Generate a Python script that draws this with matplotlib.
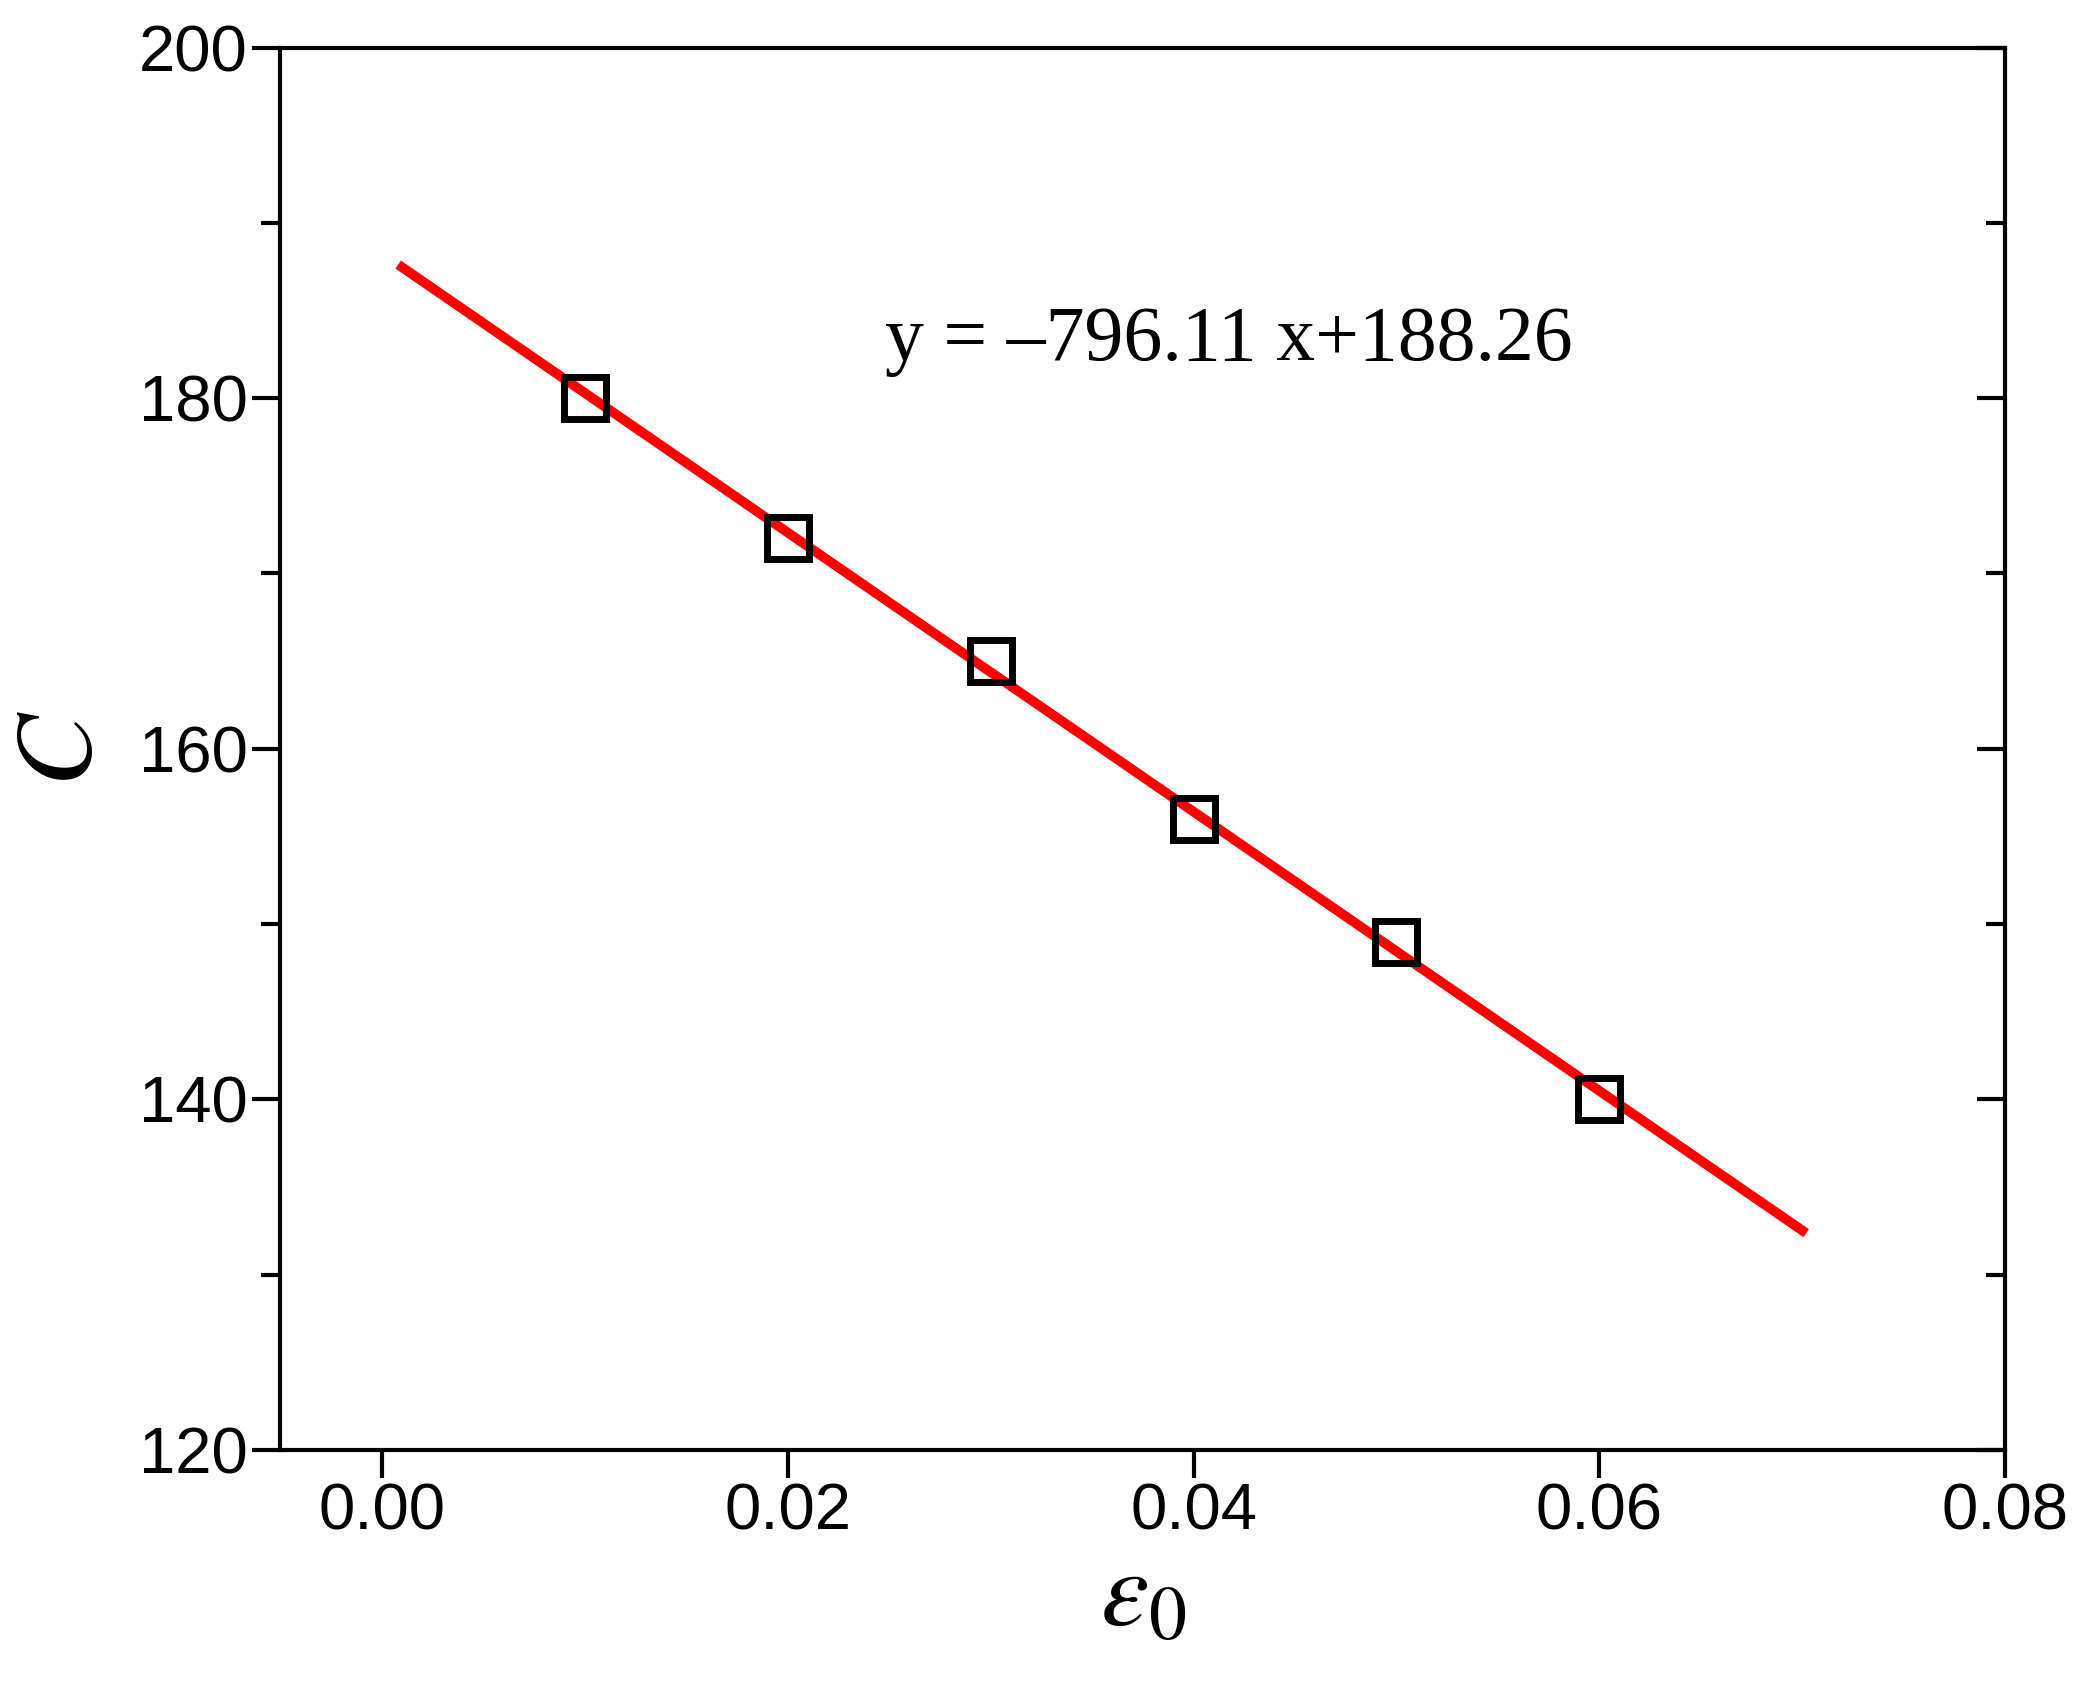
import matplotlib
matplotlib.use("Agg")
import matplotlib.pyplot as plt
import numpy as np
from matplotlib.ticker import MultipleLocator, FormatStrFormatter

plt.rcParams["mathtext.fontset"] = "stix"

# measured points
eps0 = [0.01, 0.02, 0.03, 0.04, 0.05, 0.06]
c_vals = [180, 172, 165, 156, 149, 140]
# linear fit shown in the figure
slope = -796.11
intercept = 188.26
fit_x = [0.001, 0.07]

fig = plt.figure(figsize=(20.93, 16.98), dpi=100)
ax = fig.add_axes([0.134, 0.146, 0.824, 0.826])

fx = np.array(fit_x)
ax.plot(fx, slope * fx + intercept, color="red", lw=7, zorder=2)
ax.plot(eps0, c_vals, linestyle="none", marker="s", ms=30, mfc="none",
        mec="black", mew=5, zorder=3)

ax.set_xlim(-0.005, 0.08)
ax.set_ylim(120, 200)
ax.xaxis.set_major_locator(MultipleLocator(0.02))
ax.yaxis.set_major_locator(MultipleLocator(20))
ax.yaxis.set_minor_locator(MultipleLocator(10))
ax.xaxis.set_major_formatter(FormatStrFormatter("%.2f"))

for s in ax.spines.values():
    s.set_linewidth(3)
ax.tick_params(which="both", direction="out", width=3, labelsize=47,
               right=True, top=False)
ax.tick_params(which="major", length=20)
ax.tick_params(which="minor", length=14)
for lab in ax.get_xticklabels() + ax.get_yticklabels():
    lab.set_family("Liberation Sans")
# right side ticks point inward
for t in ax.yaxis.get_major_ticks() + ax.yaxis.get_minor_ticks():
    t.tick2line.set_marker(matplotlib.lines.TICKLEFT)

ax.text(0.0248, 182.2, "y = \u2013796.11 x+188.26", fontsize=56,
        family="Liberation Serif")
ax.set_xlabel(r"$\varepsilon_0$", fontsize=78, labelpad=0)
ax.set_ylabel(r"$C$", fontsize=78, labelpad=18)

fig.savefig("out.png", dpi=100)
